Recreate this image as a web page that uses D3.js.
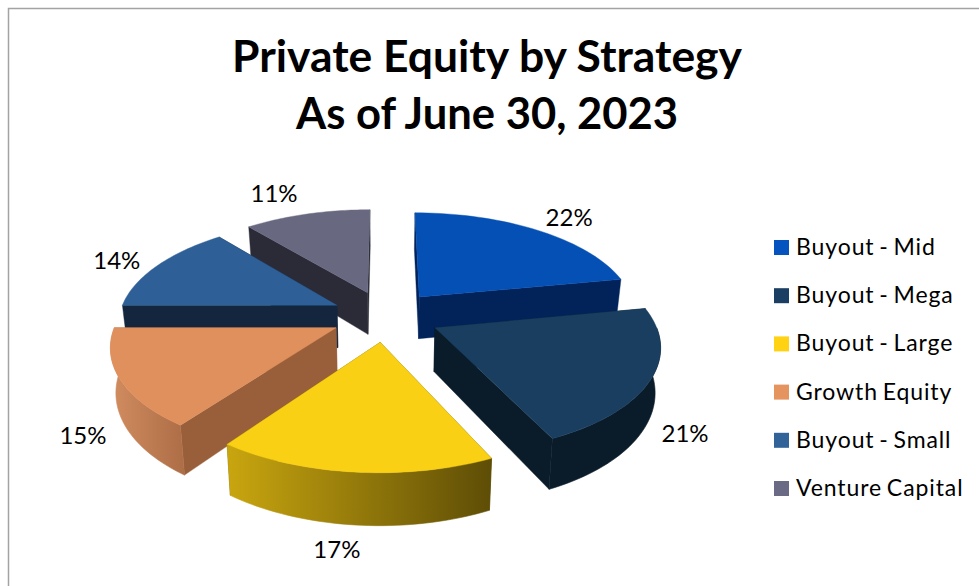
<!DOCTYPE html>
<html><head><meta charset="utf-8">
<script src="https://cdn.jsdelivr.net/npm/d3@7"></script>
<style>html,body{margin:0;padding:0;background:#fff}svg{display:block}text{font-family:Lato,Carlito,sans-serif;fill:#000}</style>
</head><body><svg id="c" width="979" height="586"></svg>
<script>
const categories = ["Buyout - Mid","Buyout - Mega","Buyout - Large","Growth Equity","Buyout - Small","Venture Capital"];
const values = [22,21,17,15,14,11];
const tickLabels = ["22%","21%","17%","15%","14%","11%"];
const titleLines = ["Private Equity by Strategy","As of June 30, 2023"];
const legendColors = ["#0553be","#1a3f63","#ffd313","#e6945f","#316399","#6a6a84"];
const topColors = ["#0550b4","#1a3e60","#f9d014","#e0905c","#2e6097","#686880"];
const cutColors = ["#01235a","#0a1b2a","#6b5a08","#995f3b","#13263e","#2b2b38"];
const outerLeft = ["#01235a","#0a1b2a","#c9a60f","#d28d60","#13263e","#2b2b38"];
const outerRight = ["#01235a","#0a1b2a","#5e4d06","#ad6d46","#13263e","#2b2b38"];

const W=979,H=586, cx=385.5, cy=316, R=218, K=102, persp=0.15, explode=0.25, depth=43, taper=0.02;
const svg=d3.select("#c");
const defs=svg.append("defs");

// border
svg.append("path").attr("d",`M${W},8.5H8.5V${H}`).attr("fill","none").attr("stroke","#a3a3a3").attr("stroke-width",1.5);

// title
const tx=[510,382];
svg.selectAll("text.t").data(titleLines).join("text").attr("class","t")
  .attr("x",487).attr("y",(d,i)=>72+i*57).attr("text-anchor","middle")
  .attr("font-size",44).attr("font-weight",700)
  .attr("textLength",(d,i)=>tx[i]).attr("lengthAdjust","spacingAndGlyphs").text(d=>d);

// pie layout
const pie=d3.pie().sort(null).value(d=>d).startAngle(0).endAngle(2*Math.PI);
const arcs=pie(values);
// projection of pie-plane point (X right, Y toward viewer; z 0 top, 1 bottom)
const project=(X,Y,z=0)=>{
  const w=1/(1-persp*Y), t=1-taper*z;
  return [cx+R*X*w*t, cy+K*Y*w+depth*z*w];
};
const line=d3.line();
const slices=arcs.map((a,i)=>{
  const mid=(a.startAngle+a.endAngle)/2;
  const ex=explode*Math.sin(mid), ey=-explode*Math.cos(mid);
  const pt=(th,z=0,r=1)=>project(ex+r*Math.sin(th),ey-r*Math.cos(th),z);
  const samples=(s,e)=>d3.range(0,41).map(k=>s+(e-s)*k/40);
  return {i,a,mid,ex,ey,pt,samples};
}).sort((p,q)=>d3.ascending(-Math.cos(p.mid),-Math.cos(q.mid)));

const g=svg.append("g");
slices.forEach(s=>{
  const {a,i,pt,samples,ex,ey}=s;
  const apex=z=>project(ex,ey,z);
  const wall=th=>[apex(0),pt(th,0),pt(th,1),apex(1)];
  const sl=g.append("g");
  // cut faces, back one first
  [a.startAngle,a.endAngle].sort((p,q)=>d3.ascending(-Math.cos(p),-Math.cos(q))).forEach(th=>{
    sl.append("path").attr("d",line(wall(th))+"Z").attr("fill",cutColors[i]).attr("stroke",cutColors[i]).attr("stroke-width",.4);
  });
  // outer wall, front half only
  const s0=Math.max(a.startAngle,Math.PI/2), e0=Math.min(a.endAngle,3*Math.PI/2);
  if(e0>s0){
    const th=samples(s0,e0);
    const pts=th.map(t=>pt(t,0)).concat(th.slice().reverse().map(t=>pt(t,1)));
    const xs=d3.extent(pts,p=>p[0]);
    const id="grad"+i;
    const gr=defs.append("linearGradient").attr("id",id).attr("gradientUnits","userSpaceOnUse")
      .attr("x1",xs[0]).attr("x2",xs[1]).attr("y1",0).attr("y2",0);
    gr.append("stop").attr("offset",0).attr("stop-color",outerLeft[i]);
    gr.append("stop").attr("offset",1).attr("stop-color",outerRight[i]);
    sl.append("path").attr("d",line(pts)+"Z").attr("fill",`url(#${id})`).attr("stroke",`url(#${id})`).attr("stroke-width",.6);
  }
  // top face
  const top=[apex(0)].concat(samples(a.startAngle,a.endAngle).map(t=>pt(t,0)));
  sl.append("path").attr("d",line(top)+"Z").attr("fill",topColors[i]).attr("stroke",topColors[i]).attr("stroke-width",.4);
});

// data labels placed radially from each slice
const labelNudge=[[6,2],[5,-1],[-13,0],[-8,1],[-2,4],[-20,-3]];
const labelT=[1.5,1.4,1.4,1.4,1.48,1.5];
arcs.forEach((a,i)=>{
  const mid=(a.startAngle+a.endAngle)/2, t=labelT[i];
  const front=Math.cos(mid)<0;
  const p=project(t*Math.sin(mid),-t*Math.cos(mid),front?1:0);
  svg.append("text").attr("x",p[0]+labelNudge[i][0]).attr("y",p[1]+labelNudge[i][1]+8)
    .attr("text-anchor","middle").attr("font-size",24).text(tickLabels[i]);
});

// legend
const ly=d3.scalePoint().domain(categories).range([255,496]);
const lg=svg.selectAll("g.l").data(categories).join("g").attr("class","l");
lg.append("rect").attr("x",774).attr("y",d=>ly(d)-15).attr("width",15).attr("height",15).attr("fill",(d,i)=>legendColors[i]);
lg.append("text").attr("x",796).attr("y",d=>ly(d)).attr("font-size",23).attr("letter-spacing",.9).attr("word-spacing",-2).text(d=>d);
</script></body></html>
